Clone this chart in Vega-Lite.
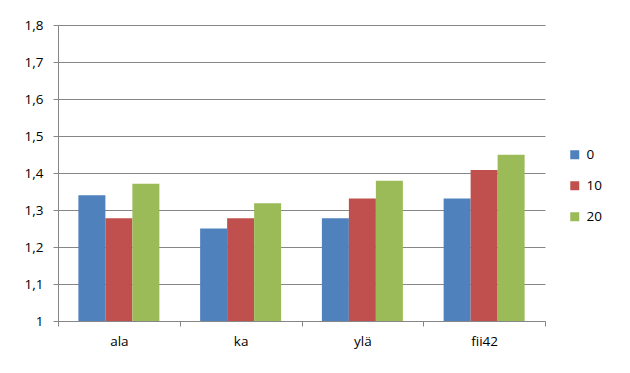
{
  "$schema": "https://vega.github.io/schema/vega-lite/v6.json",
  "width": 487,
  "height": 296,
  "autosize": {"type": "none"},
  "padding": {"left": 58, "top": 25, "right": 85, "bottom": 52},
  "background": "white",
  "config": {
    "view": {"stroke": null},
    "font": "Open Sans"
  },
  "data": {
    "values": [
      {"cat": "ala", "series": "0", "value": 1.34},
      {"cat": "ala", "series": "10", "value": 1.278},
      {"cat": "ala", "series": "20", "value": 1.371},
      {"cat": "ka", "series": "0", "value": 1.25},
      {"cat": "ka", "series": "10", "value": 1.278},
      {"cat": "ka", "series": "20", "value": 1.318},
      {"cat": "ylä", "series": "0", "value": 1.278},
      {"cat": "ylä", "series": "10", "value": 1.331},
      {"cat": "ylä", "series": "20", "value": 1.379},
      {"cat": "fii42", "series": "0", "value": 1.331},
      {"cat": "fii42", "series": "10", "value": 1.408},
      {"cat": "fii42", "series": "20", "value": 1.449}
    ]
  },
  "mark": {"type": "bar", "stroke": null},
  "encoding": {
    "x": {
      "field": "cat",
      "type": "nominal",
      "sort": ["ala", "ka", "ylä", "fii42"],
      "scale": {"paddingInner": 0, "paddingOuter": 0},
      "axis": {
        "title": null,
        "labelAngle": 0,
        "tickBand": "extent",
        "domainColor": "#868686",
        "tickColor": "#868686",
        "tickSize": 5,
        "labelPadding": 8,
        "labelFontSize": 13.5,
        "labelColor": "#000000",
        "grid": false
      }
    },
    "xOffset": {
      "field": "series",
      "type": "nominal",
      "sort": ["0", "10", "20"],
      "scale": {"paddingInner": 0, "paddingOuter": 0.755}
    },
    "y": {
      "field": "value",
      "type": "quantitative",
      "scale": {"domain": [1, 1.8], "nice": false, "zero": false},
      "axis": {
        "title": null,
        "values": [1, 1.1, 1.2, 1.3, 1.4, 1.5, 1.6, 1.7, 1.8],
        "labelExpr": "replace(format(datum.value, '~g'), '.', ',')",
        "domainColor": "#868686",
        "tickColor": "#868686",
        "gridColor": "#868686",
        "gridWidth": 1,
        "tickSize": 5,
        "labelPadding": 10,
        "labelFontSize": 13.5,
        "labelColor": "#000000"
      }
    },
    "y2": {"datum": 1},
    "color": {
      "field": "series",
      "type": "nominal",
      "sort": ["0", "10", "20"],
      "scale": {"domain": ["0", "10", "20"], "range": ["#4F81BD", "#C0504D", "#9BBB59"]},
      "legend": {
        "title": null,
        "orient": "none",
        "legendX": 510,
        "legendY": 123,
        "symbolType": "square",
        "symbolSize": 81,
        "symbolStrokeWidth": 0,
        "labelFontSize": 13.5,
        "labelColor": "#000000",
        "rowPadding": 16,
        "labelOffset": 5
      }
    }
  }
}
